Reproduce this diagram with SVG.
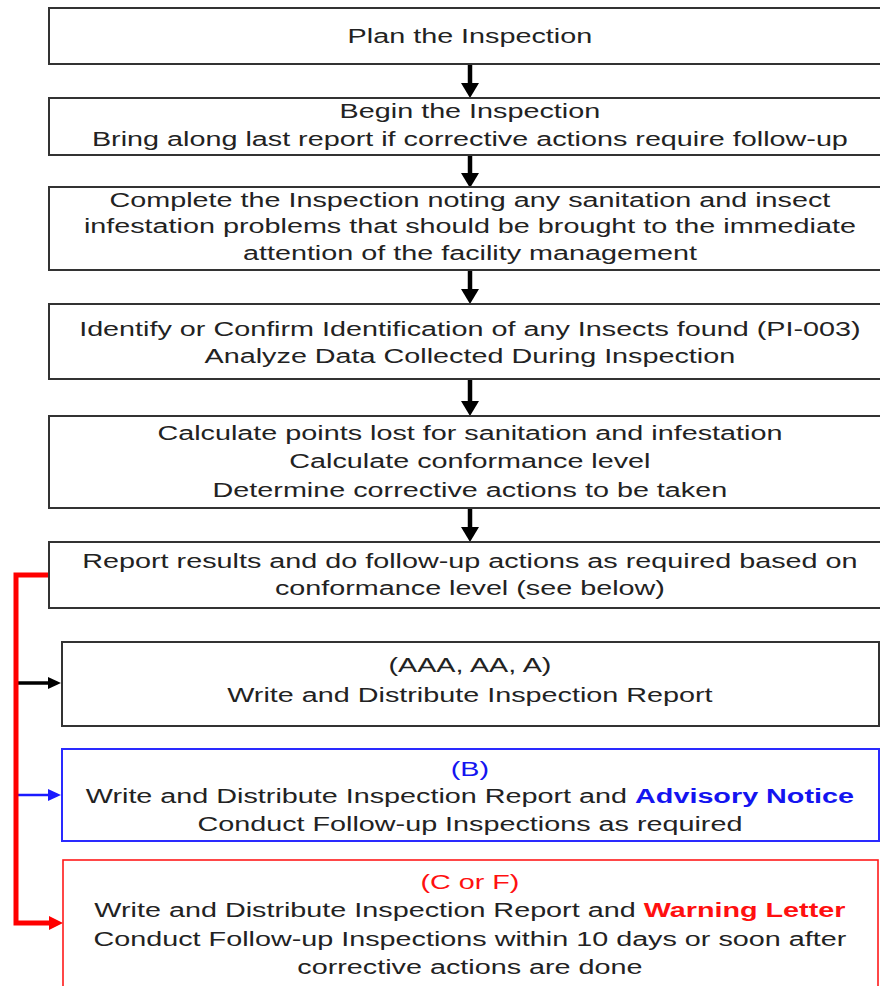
<svg xmlns="http://www.w3.org/2000/svg" width="880" height="986" viewBox="0 0 880 986">
<style>
.box{fill:#fff;stroke:#333;stroke-width:2}
.bbox{fill:#fff;stroke:#2a2aff;stroke-width:2}
.rbox{fill:#fff;stroke:#ff1a1a;stroke-width:1.6}
.t{font-family:"Liberation Sans",Arial,sans-serif;font-size:21px;fill:#222;text-anchor:middle}
.blue{fill:#1414f0}
.red{fill:#ff1010}
.b{font-weight:bold}
</style>
<defs>
<marker id="hk" markerUnits="userSpaceOnUse" markerWidth="16" markerHeight="18" refX="0" refY="9" orient="auto"><path d="M0,0 L15,9 L0,18 z" fill="#000"/></marker>
<marker id="hks" markerUnits="userSpaceOnUse" markerWidth="14" markerHeight="12" refX="0" refY="6" orient="auto"><path d="M0,0 L13,6 L0,12 z" fill="#000"/></marker>
<marker id="hb" markerUnits="userSpaceOnUse" markerWidth="14" markerHeight="12" refX="0" refY="6" orient="auto"><path d="M0,0 L13,6 L0,12 z" fill="#1a1aff"/></marker>
<marker id="hr" markerUnits="userSpaceOnUse" markerWidth="14" markerHeight="14" refX="0" refY="7" orient="auto"><path d="M0,0 L13,7 L0,14 z" fill="#ff0000"/></marker>
</defs>
<rect width="880" height="986" fill="#fff"/>
<g id="connectors">
<line x1="470" y1="64" x2="470" y2="83" stroke="#000" stroke-width="4.5" marker-end="url(#hk)"/>
<line x1="470" y1="155" x2="470" y2="173" stroke="#000" stroke-width="4.5" marker-end="url(#hk)"/>
<line x1="470" y1="270" x2="470" y2="289" stroke="#000" stroke-width="4.5" marker-end="url(#hk)"/>
<line x1="470" y1="379" x2="470" y2="401" stroke="#000" stroke-width="4.5" marker-end="url(#hk)"/>
<line x1="470" y1="508" x2="470" y2="527" stroke="#000" stroke-width="4.5" marker-end="url(#hk)"/>
<line x1="16" y1="683" x2="48" y2="683" stroke="#000" stroke-width="3.5" marker-end="url(#hks)"/>
<line x1="16" y1="795" x2="48" y2="795" stroke="#1a1aff" stroke-width="2.5" marker-end="url(#hb)"/>
<polyline points="50,575 16,575 16,923 50,923" fill="none" stroke="#ff0000" stroke-width="5"/>
<polygon points="49,916 63,923 49,930" fill="#ff0000"/>
</g>
<g id="n1"><rect class="box" x="49" y="8" width="845" height="56"/></g>
<g id="n2"><rect class="box" x="49" y="98" width="845" height="57"/></g>
<g id="n3"><rect class="box" x="49" y="187" width="845" height="83"/></g>
<g id="n4"><rect class="box" x="49" y="304" width="845" height="75"/></g>
<g id="n5"><rect class="box" x="49" y="416" width="845" height="92"/></g>
<g id="n6"><rect class="box" x="49" y="542" width="845" height="66"/></g>
<g id="n7"><rect class="box" x="62" y="642" width="817" height="84"/></g>
<g id="n8"><rect class="bbox" x="62" y="749" width="817" height="92"/></g>
<g id="n9"><rect class="rbox" x="63" y="860" width="815" height="140"/></g>
<g id="labels" transform="scale(1.37,1)">
<text class="t" x="343" y="43">Plan the Inspection</text>
<text class="t" x="343" y="118">Begin the Inspection</text>
<text class="t" x="343" y="146">Bring along last report if corrective actions require follow-up</text>
<text class="t" x="343" y="207">Complete the Inspection noting any sanitation and insect</text>
<text class="t" x="343" y="233">infestation problems that should be brought to the immediate</text>
<text class="t" x="343" y="260">attention of the facility management</text>
<text class="t" x="343" y="336">Identify or Confirm Identification of any Insects found (PI-003)</text>
<text class="t" x="343" y="363">Analyze Data Collected During Inspection</text>
<text class="t" x="343" y="440">Calculate points lost for sanitation and infestation</text>
<text class="t" x="343" y="468">Calculate conformance level</text>
<text class="t" x="343" y="497">Determine corrective actions to be taken</text>
<text class="t" x="343" y="568">Report results and do follow-up actions as required based on</text>
<text class="t" x="343" y="595">conformance level (see below)</text>
<text class="t" x="343" y="672">(AAA, AA, A)</text>
<text class="t" x="343" y="702">Write and Distribute Inspection Report</text>
<text class="t blue" x="343" y="776">(B)</text>
<text class="t" x="343" y="803">Write and Distribute Inspection Report and <tspan class="blue b">Advisory Notice</tspan></text>
<text class="t" x="343" y="831">Conduct Follow-up Inspections as required</text>
<text class="t red" x="343" y="889">(C or F)</text>
<text class="t" x="343" y="917">Write and Distribute Inspection Report and <tspan class="red b">Warning Letter</tspan></text>
<text class="t" x="343" y="946">Conduct Follow-up Inspections within 10 days or soon after</text>
<text class="t" x="343" y="974">corrective actions are done</text>
</g>
</svg>
